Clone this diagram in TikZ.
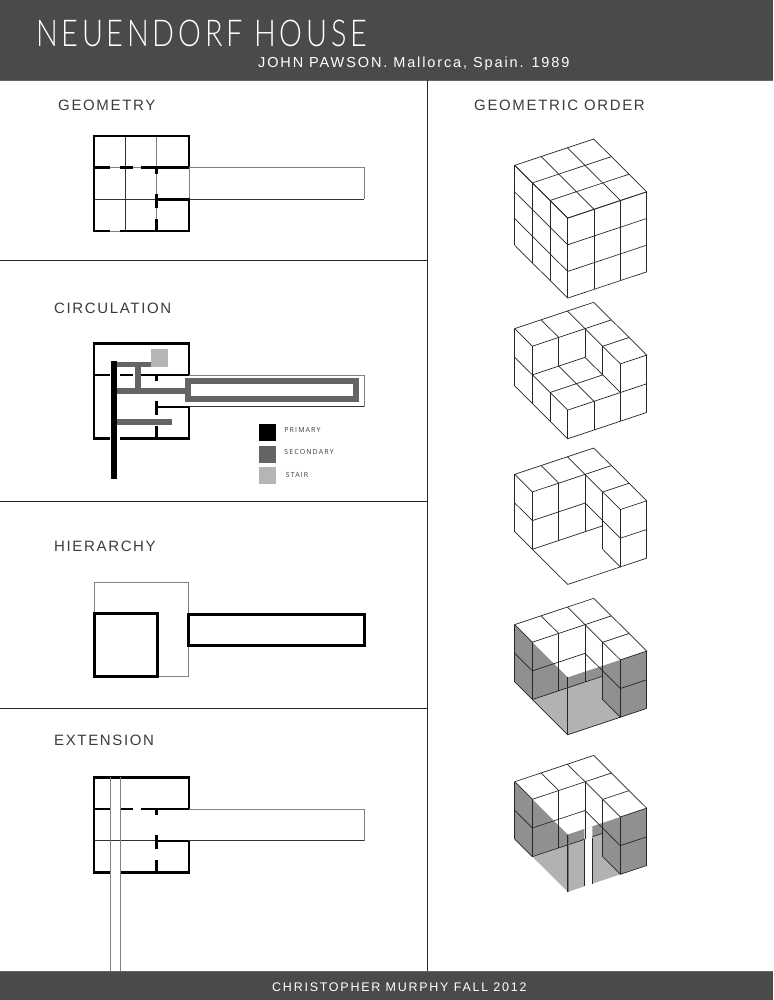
\documentclass[tikz,border=0pt]{standalone}
\usepackage{fontspec}
\usetikzlibrary{positioning}
\setmainfont{Liberation Sans}
\newfontfamily\titlefont[LetterSpace=13]{Lato Light}
\newfontfamily\subfont[LetterSpace=13]{Liberation Sans}
\newfontfamily\labelfont[LetterSpace=11]{Liberation Sans}
\newfontfamily\footfont[LetterSpace=14]{Liberation Sans}
\newfontfamily\legendfont[LetterSpace=16]{Open Sans}
\definecolor{bandgray}{HTML}{4A4A48}
\definecolor{inkgray}{HTML}{3C3C3B}
\definecolor{secondgray}{HTML}{636466}
\definecolor{stairgray}{HTML}{B5B5B7}
\definecolor{shadedark}{HTML}{918F91}
\definecolor{shadelight}{HTML}{B2B2B2}
\tikzset{
  wallthick/.style={line width=2.6pt,black},
  wallthin/.style={line width=.8pt,black!80},
  wallgray/.style={line width=.9pt,black!50},
  cubeline/.style={line width=.7pt,black!85},
  cubeview/.style={x={(17.67pt,-17.6pt)},y={(-26.33pt,-8.77pt)},z={(0pt,-#1)}},
  title text/.style={anchor=west,inner sep=0pt,text=white},
  section label/.style={anchor=west,inner sep=0pt,text=inkgray,font=\labelfont\fontsize{15}{15}\selectfont},
  legend box/.style={minimum size=17pt,inner sep=0pt},
  legend text/.style={inner sep=0pt,text=inkgray,font=\legendfont\fontsize{7}{8}\selectfont},
}
% walls shared by the plans, y counted from the top of the house
\newcommand{\housewalls}{%
  \draw[wallthick] (189,31.7) -- (189,0) -- (94,0) -- (94,95) -- (110,95);
  \draw[wallthick] (120,95) -- (189,95) -- (189,63.5) -- (155.4,63.5);
  \draw[wallthick] (94,31.7) -- (110,31.7) (120,31.7) -- (133,31.7) (141.3,31.7) -- (189,31.7);
  \draw[wallthick] (156.7,31.7) -- (156.7,38) (156.7,58) -- (156.7,72) (156.7,83) -- (156.7,95);
  \draw[wallgray] (189,31.7) -- (364,31.7) -- (364,63.5);
  \draw[wallthin] (189,63.5) -- (364,63.5);
}
% the slab of the cut cubes and the walls under it
\newcommand{\slabtop}{%
  \draw[cubeline] (0,0,0) -- (0,3,0) -- (1,3,0) -- (1,0,0);
  \draw[cubeline] (0,0,0) -- (3,0,0) -- (3,1,0) -- (1,1,0);
  \draw[cubeline] (0,1,0) -- (1,1,0) (0,2,0) -- (1,2,0) (2,0,0) -- (2,1,0);
}
\newcommand{\cutwalls}{%
  \slabtop
  \foreach \i/\j in {0/3,1/3,1/2,1/1,2/1,3/1,3/0}
    \draw[cubeline] (\i,\j,0) -- (\i,\j,2);
  \draw[cubeline] (0,3,1) -- (1,3,1) -- (1,1,1) -- (3,1,1) -- (3,0,1);
  \draw[cubeline] (0,3,2) -- (1,3,2);
  \draw[cubeline] (2,1,2) -- (3,1,2) -- (3,0,2);
}
\newcommand{\shadewalls}{%
  \fill[shadedark] (0,3,0) -- (3,3,0) -- (3,0,0) -- (3,0,2) -- (3,1,2) -- (2,1,2) -- (1,0.33,2) -- (1,3,2) -- (0,3,2) -- cycle;
}
\begin{document}
\begin{tikzpicture}[x=1pt,y=-1pt]
\useasboundingbox[fill=white] (0,0) rectangle (773,1000);
% bands
\fill[bandgray] (0,0) rectangle (773,80);
\fill[bandgray] (0,971) rectangle (773,1000);
\draw[line width=.8pt,black!60] (0,80) -- (773,80) (0,971) -- (773,971);
\node[title text,font=\titlefont\fontsize{37}{37}\selectfont] (housetitle) at (36,33) {\scalebox{.78}[1]{NEUENDORF HOUSE}};
\node[title text,font=\subfont\fontsize{14.5}{15}\selectfont] (subtitle) at (258,64) {JOHN PAWSON. Mallorca, Spain. 1989};
\node[title text,font=\footfont\fontsize{12.5}{13}\selectfont] (credit) at (272,987) {CHRISTOPHER MURPHY FALL 2012};
% panel rules
\draw[line width=.8pt,black!85] (427,80) -- (427,971);
\draw[line width=.8pt,black!85] (0,260) -- (427,260) (0,501) -- (427,501) (0,708) -- (427,708);
\node[section label] (geometry) at (58,105.5) {GEOMETRY};
\node[section label] (circulation) at (54,308.5) {CIRCULATION};
\node[section label] (hierarchy) at (54,546.5) {HIERARCHY};
\node[section label] (extension) at (54,740.5) {EXTENSION};
\node[section label] (order) at (474,105.5) {GEOMETRIC ORDER};
% geometry
\begin{scope}[shift={(0,136)}]
\draw[wallthin] (125.7,0) -- (125.7,95) (94,63.5) -- (157,63.5);
\draw[wallgray] (156.7,0) -- (156.7,31.7) (156.7,38) -- (156.7,58) (156.7,72) -- (156.7,83);
\draw[wallgray] (110,31.7) -- (120,31.7) (133,31.7) -- (141.3,31.7) (110,95) -- (120,95) (189,31.7) -- (189,63.5);
\housewalls
\end{scope}
% circulation
\begin{scope}[shift={(0,343.3)}]
\housewalls
\end{scope}
\fill[stairgray] (151,349) rectangle (167.7,367.3);
\draw[secondgray,line width=5.7pt] (114,364.5) -- (151,364.5);
\draw[secondgray,line width=5.7pt] (137.7,364.5) -- (137.7,391);
\draw[secondgray,line width=5.7pt] (114,391) -- (188,391);
\draw[secondgray,line width=5.7pt] (114,422) -- (172.3,422);
\draw[secondgray,line width=6pt] (188,380.7) rectangle (356.3,399.3);
\draw[black,line width=6pt] (114,361) -- (114,479);
\node[legend box,fill=black] (primarybox) at (267,432.5) {};
\node[legend box,fill=secondgray] (secondarybox) at (267,454.2) {};
\node[legend box,fill=stairgray] (stairbox) at (267,475.8) {};
\node[legend text,right=8.5pt of primarybox,yshift=2.5pt] (primarytext) {PRIMARY};
\node[legend text,right=8.5pt of secondarybox,yshift=2.2pt] (secondarytext) {SECONDARY};
\node[legend text,right=10pt of stairbox,yshift=1.2pt] (stairtext) {STAIR};
% hierarchy
\draw[wallgray] (94,614) -- (94,582) -- (188,582) -- (188,676) -- (157,676);
\draw[line width=3pt,black] (94,613.5) rectangle (157.3,676.3);
\draw[line width=3pt,black] (188,614) rectangle (364,645.5);
% extension
\begin{scope}[shift={(0,777.3)}]
\draw[wallthin] (94,63.5) -- (157,63.5);
\housewalls
\end{scope}
\draw[wallgray] (110,777.3) -- (110,971) (120,777.3) -- (120,971);
% whole cube
\begin{scope}[shift={(593.7,139)},cubeview=26.67pt]
\foreach \n in {0,1,2,3} {
  \draw[cubeline] (\n,0,0) -- (\n,3,0) (0,\n,0) -- (3,\n,0);
  \draw[cubeline] (\n,3,0) -- (\n,3,3) (3,\n,0) -- (3,\n,3);
  \draw[cubeline] (0,3,\n) -- (3,3,\n) (3,0,\n) -- (3,3,\n);
}
\end{scope}
% stepped cube
\begin{scope}[shift={(593.7,302.3)},cubeview=28.67pt]
\slabtop
\foreach \i/\j in {0/3,1/3,3/1,3/0}
  \draw[cubeline] (\i,\j,0) -- (\i,\j,2);
\foreach \i/\j in {1/2,1/1,2/1}
  \draw[cubeline] (\i,\j,0) -- (\i,\j,1);
\foreach \i/\j in {2/3,3/3,3/2}
  \draw[cubeline] (\i,\j,1) -- (\i,\j,2);
\draw[cubeline] (0,3,1) -- (3,3,1) -- (3,0,1);
\draw[cubeline] (1,3,1) -- (1,1,1) -- (3,1,1) (2,3,1) -- (2,1,1) (1,2,1) -- (3,2,1);
\draw[cubeline] (0,3,2) -- (3,3,2) -- (3,0,2);
\end{scope}
% open cube
\begin{scope}[shift={(593.7,448)},cubeview=28.67pt]
\cutwalls
\draw[cubeline] (1,3,2) -- (3,3,2) -- (3,1,2);
\draw[cubeline] (1,3,2) -- (1,0.33,2);
\end{scope}
% shaded cube
\begin{scope}[shift={(593.7,598.3)},cubeview=28.67pt]
\shadewalls
\fill[shadelight] (1,3,2) -- (3,3,2) -- (3,1,2) -- (2,1,2) -- (1,0.33,2) -- cycle;
\cutwalls
\draw[cubeline] (1,3,2) -- (3,3,2) -- (3,1,2);
\draw[cubeline] (1,3,2) -- (1,0.33,2);
\draw[cubeline] (3,3,0) -- (3,3,2);
\end{scope}
% shaded cube with the slot
\begin{scope}[shift={(593.7,755.4)},cubeview=28.67pt]
\shadewalls
\fill[shadelight] (1,3,2) -- (3,3,2) -- (3,1,2) -- (2,1,2) -- (1,0.33,2) -- cycle;
\fill[white] (3,2.37,0) -- (3,2.06,0) -- (3,2.06,2.05) -- (3,2.37,2.05) -- cycle;
\cutwalls
\draw[cubeline] (1,3,2) -- (1,1,2) (1,0.72,2) -- (1,0.33,2);
\draw[wallgray,line width=1.6pt,black!55] (3,3,0) -- (3,3,2);
\draw[cubeline] (3,3,0) -- (3,3,2);
\draw[cubeline] (3,2.37,0.4) -- (3,2.37,2) (3,2.06,0.42) -- (3,2.06,2);
\end{scope}
\end{tikzpicture}
\end{document}
